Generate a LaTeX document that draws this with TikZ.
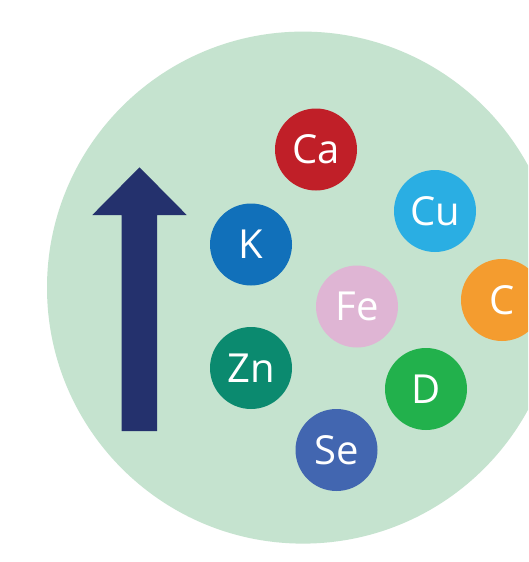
\documentclass[tikz,border=0pt]{standalone}
\usepackage{fontspec}
\setmainfont{Open Sans}
\usetikzlibrary{positioning}
\definecolor{mintbg}{RGB}{197,227,207}
\definecolor{navyarrow}{RGB}{36,49,109}
\definecolor{cared}{RGB}{192,31,40}
\definecolor{cublue}{RGB}{42,174,227}
\definecolor{kblue}{RGB}{17,112,186}
\definecolor{fepink}{RGB}{223,181,212}
\definecolor{corange}{RGB}{244,156,47}
\definecolor{znteal}{RGB}{11,138,111}
\definecolor{dgreen}{RGB}{34,177,76}
\definecolor{seblue}{RGB}{66,102,176}
\tikzset{
  nutrient/.style={circle,minimum size=82pt,inner sep=0pt,text=white,
    font=\fontsize{40}{40}\selectfont}
}

\begin{document}
\begin{tikzpicture}[x=1pt,y=-1pt]
  \useasboundingbox (0,0) rectangle (528,562);
  \clip (0,0) rectangle (528,562);
  \fill[white] (0,0) rectangle (528,562);

  % -- big mint disc --
  \fill[mintbg] (303,287.6) circle (256);

  % -- upward arrow --
  \fill[navyarrow] (121.7,431) -- (121.7,215) -- (92.3,215) -- (139.5,167.3)
    -- (186.7,215) -- (157,215) -- (157,431) -- cycle;

  % -- nutrients --
  \node[nutrient,fill=cared]   (ca) at (316,149.5) {Ca};
  \node[nutrient,fill=cublue]  (cu) at (435,211)   {Cu};
  \node[nutrient,fill=kblue]   (k)  at (251,244.5) {K};
  \node[nutrient,fill=fepink]  (fe) at (357,306.5) {Fe};
  \node[nutrient,fill=corange] (c)  at (502,300)   {C};
  \node[nutrient,fill=znteal]  (zn) at (251,368)   {Zn};
  \node[nutrient,fill=dgreen]  (d)  at (426,389)   {D};
  \node[nutrient,fill=seblue]  (se) at (336.5,450) {Se};
\end{tikzpicture}
\end{document}
